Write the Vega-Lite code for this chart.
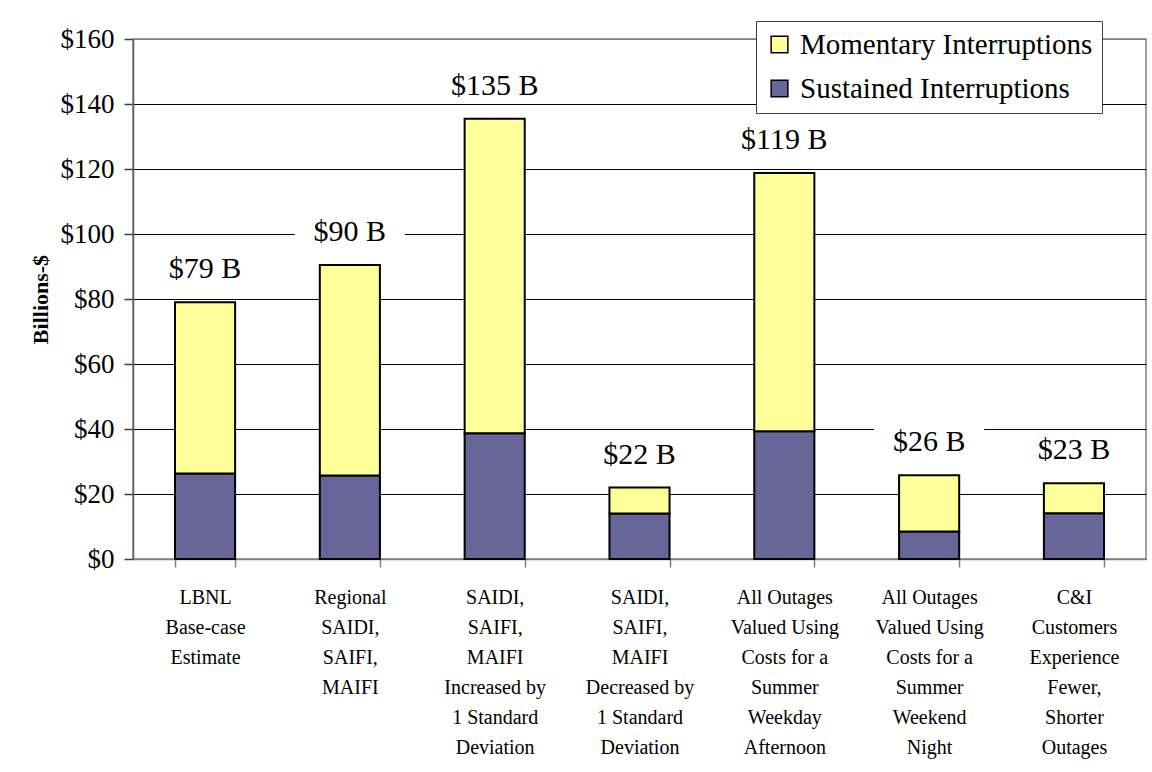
{
  "$schema": "https://vega.github.io/schema/vega-lite/v6.json",
  "width": 1013,
  "height": 520,
  "autosize": "none",
  "padding": {"left": 133, "top": 39, "right": 6, "bottom": 213},
  "background": "white",
  "config": {
    "font": "Liberation Serif",
    "view": {"stroke": "#808080", "strokeWidth": 1.5},
    "axis": {"labelFont": "'Liberation Serif', serif", "titleFont": "Liberation Serif"},
    "style": {"guide-label": {"font": "'Liberation Serif', serif"}, "guide-title": {"font": "Liberation Serif"}}
  },
  "datasets": {
    "bars": [
      {"category": "LBNL|Base-case|Estimate", "type": "Sustained Interruptions", "value": 26.3},
      {"category": "LBNL|Base-case|Estimate", "type": "Momentary Interruptions", "value": 52.7},
      {"category": "Regional|SAIDI,|SAIFI,|MAIFI", "type": "Sustained Interruptions", "value": 25.7},
      {"category": "Regional|SAIDI,|SAIFI,|MAIFI", "type": "Momentary Interruptions", "value": 64.8},
      {"category": "SAIDI,|SAIFI,|MAIFI|Increased by|1 Standard|Deviation", "type": "Sustained Interruptions", "value": 38.7},
      {"category": "SAIDI,|SAIFI,|MAIFI|Increased by|1 Standard|Deviation", "type": "Momentary Interruptions", "value": 96.8},
      {"category": "SAIDI,|SAIFI,|MAIFI|Decreased by|1 Standard|Deviation", "type": "Sustained Interruptions", "value": 14.0},
      {"category": "SAIDI,|SAIFI,|MAIFI|Decreased by|1 Standard|Deviation", "type": "Momentary Interruptions", "value": 8.0},
      {"category": "All Outages|Valued Using|Costs for a|Summer|Weekday|Afternoon", "type": "Sustained Interruptions", "value": 39.3},
      {"category": "All Outages|Valued Using|Costs for a|Summer|Weekday|Afternoon", "type": "Momentary Interruptions", "value": 79.5},
      {"category": "All Outages|Valued Using|Costs for a|Summer|Weekend|Night", "type": "Sustained Interruptions", "value": 8.5},
      {"category": "All Outages|Valued Using|Costs for a|Summer|Weekend|Night", "type": "Momentary Interruptions", "value": 17.3},
      {"category": "C&I|Customers|Experience|Fewer,|Shorter|Outages", "type": "Sustained Interruptions", "value": 14.1},
      {"category": "C&I|Customers|Experience|Fewer,|Shorter|Outages", "type": "Momentary Interruptions", "value": 9.2}
    ],
    "labels": [
      {"category": "LBNL|Base-case|Estimate", "total": 79, "label": "$79 B"},
      {"category": "Regional|SAIDI,|SAIFI,|MAIFI", "total": 90.5, "label": "$90 B"},
      {"category": "SAIDI,|SAIFI,|MAIFI|Increased by|1 Standard|Deviation", "total": 135.5, "label": "$135 B"},
      {"category": "SAIDI,|SAIFI,|MAIFI|Decreased by|1 Standard|Deviation", "total": 22, "label": "$22 B"},
      {"category": "All Outages|Valued Using|Costs for a|Summer|Weekday|Afternoon", "total": 118.8, "label": "$119 B"},
      {"category": "All Outages|Valued Using|Costs for a|Summer|Weekend|Night", "total": 25.8, "label": "$26 B"},
      {"category": "C&I|Customers|Experience|Fewer,|Shorter|Outages", "total": 23.3, "label": "$23 B"}
    ]
  },
  "encoding": {
    "x": {
      "field": "category",
      "type": "nominal",
      "sort": null,
      "scale": {"paddingInner": 0.585, "paddingOuter": 0.29},
      "axis": {
        "title": null,
        "labelAngle": 0,
        "labelExpr": "isValid(datum.value) ? split(datum.value, '|') : ''",
        "labelFont": "'Liberation Serif', serif",
        "labelFontSize": 20,
        "labelColor": "black",
        "labelLineHeight": 30,
        "labelBaseline": "top",
        "labelPadding": 20,
        "labelLimit": 200,
        "tickBand": "extent",
        "tickSize": 8,
        "tickColor": "#808080",
        "tickWidth": 1.5,
        "domainColor": "#808080",
        "domainWidth": 1.5
      }
    }
  },
  "layer": [
    {
      "data": {"name": "bars"},
      "mark": {"type": "bar", "stroke": "black", "strokeWidth": 2},
      "encoding": {
        "y": {
          "field": "value",
          "type": "quantitative",
          "stack": "zero",
          "scale": {"domain": [0, 160], "nice": false},
          "axis": {
            "title": "Billions-$",
            "titleFont": "Liberation Serif",
            "titleFontSize": 22,
            "titleFontWeight": "bold",
            "titleColor": "black",
            "titlePadding": 8,
            "values": [0, 20, 40, 60, 80, 100, 120, 140, 160],
            "labelExpr": "'$' + datum.value",
            "labelFont": "'Liberation Serif', serif",
            "labelFontSize": 27,
            "labelColor": "black",
            "labelPadding": 10,
            "tickSize": 9,
            "tickColor": "#404040",
            "tickWidth": 1.5,
            "domainColor": "#606060",
            "domainWidth": 1.5,
            "grid": true,
            "gridColor": {"condition": {"test": "datum.value === 160", "value": "#808080"}, "value": "black"},
            "gridWidth": 1.2
          }
        },
        "color": {
          "field": "type",
          "type": "nominal",
          "scale": {
            "domain": ["Momentary Interruptions", "Sustained Interruptions"],
            "range": ["#FFFF99", "#666699"]
          },
          "legend": {
            "title": null,
            "orient": "none",
            "legendX": 623,
            "legendY": -18,
            "symbolType": "square",
            "symbolSize": 280,
            "symbolStrokeColor": "black",
            "symbolStrokeWidth": 1.5,
            "labelFont": "Liberation Serif",
            "labelFontSize": 29,
            "labelColor": "black",
            "labelOffset": 6,
            "labelLimit": 450,
            "rowPadding": 14,
            "padding": 9,
            "strokeColor": "#404040",
            "fillColor": "white"
          }
        },
        "order": {"field": "type", "sort": "descending"}
      }
    },
    {
      "data": {"name": "labels"},
      "mark": {
        "type": "point",
        "shape": "M-1,-0.25L1,-0.25L1,0.25L-1,0.25Z",
        "filled": true,
        "fill": "white",
        "stroke": null,
        "opacity": 1,
        "size": 12100,
        "yOffset": -33
      },
      "encoding": {
        "y": {"field": "total", "type": "quantitative"}
      }
    },
    {
      "data": {"name": "labels"},
      "mark": {
        "type": "text",
        "font": "Liberation Serif",
        "fontSize": 30,
        "color": "black",
        "baseline": "middle",
        "dy": -33
      },
      "encoding": {
        "y": {"field": "total", "type": "quantitative"},
        "text": {"field": "label"}
      }
    }
  ]
}
